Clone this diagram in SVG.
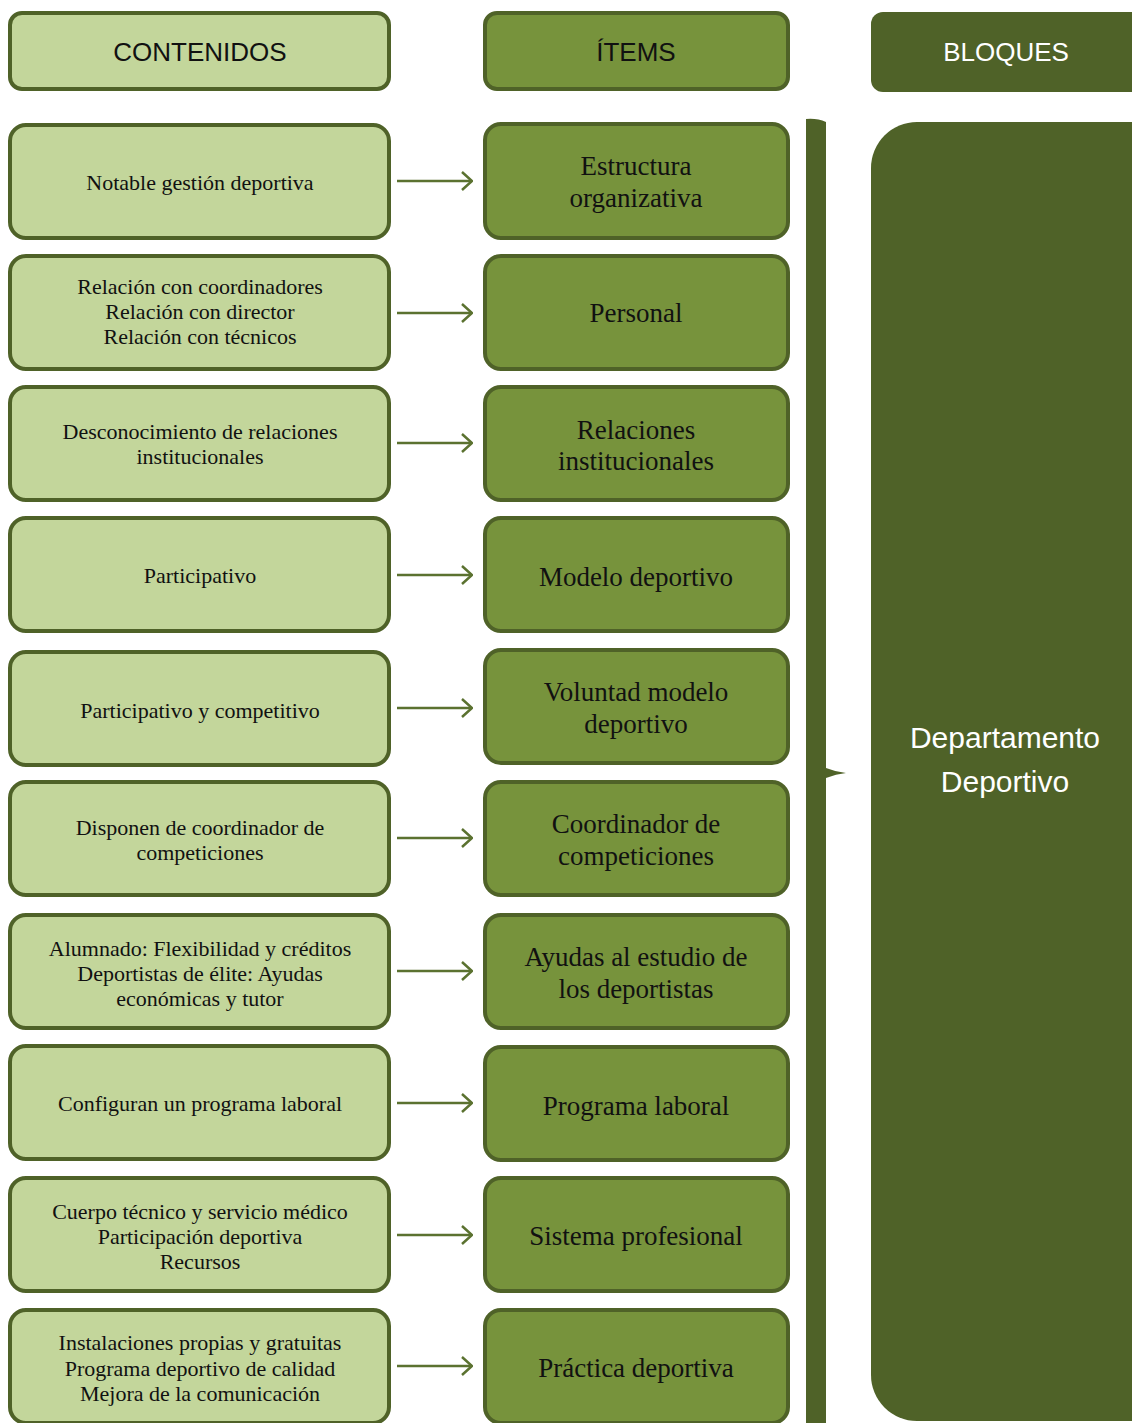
<svg xmlns="http://www.w3.org/2000/svg" width="1132" height="1423" viewBox="0 0 1132 1423">
  <style>
    .c { fill: #c3d69b; stroke: #4f6228; stroke-width: 4; }
    .i { fill: #77933c; stroke: #4f6228; stroke-width: 4; }
    .b { fill: #4f6228; }
    .hd { font-family: "Liberation Sans", Arial, sans-serif; font-size: 26px; text-anchor: middle; dominant-baseline: central; }
    .ct { font-family: "Liberation Serif", "Times New Roman", serif; font-size: 22px; fill: #111; text-anchor: middle; dominant-baseline: central; }
    .it { font-family: "Liberation Serif", "Times New Roman", serif; font-size: 27px; fill: #111; text-anchor: middle; dominant-baseline: central; }
    .bl { font-family: "Liberation Sans", Arial, sans-serif; font-size: 30px; fill: #ffffff; text-anchor: middle; dominant-baseline: central; }
    .ar { fill: none; stroke: #5b7230; stroke-width: 2.5; }
  </style>
  <defs>
    <marker id="head" viewBox="0 0 12 20" refX="11" refY="10" markerWidth="12" markerHeight="20" markerUnits="userSpaceOnUse" orient="auto">
      <path d="M1,1 L11,10 L1,19" fill="none" stroke="#5b7230" stroke-width="2.5"/>
    </marker>
  </defs>

  <!-- column headers -->
  <g id="h-contenidos">
    <rect class="c" x="10" y="13" width="379" height="76" rx="12"/>
    <text class="hd" x="200" y="52" fill="#111">CONTENIDOS</text>
  </g>
  <g id="h-items">
    <rect class="i" x="485" y="13" width="303" height="76" rx="12"/>
    <text class="hd" x="636" y="52" fill="#111">ÍTEMS</text>
  </g>
  <g id="h-bloques">
    <rect class="b" x="871" y="12" width="300" height="80" rx="12"/>
    <text class="hd" x="1006" y="52" fill="#ffffff">BLOQUES</text>
  </g>

  <!-- contents column -->
  <g id="c1"><rect class="c" x="10" y="125" width="379" height="113" rx="16"/>
    <text class="ct" x="200" y="182">Notable gestión deportiva</text></g>
  <g id="c2"><rect class="c" x="10" y="256" width="379" height="113" rx="16"/>
    <text class="ct" x="200" y="286">Relación con coordinadores</text>
    <text class="ct" x="200" y="311">Relación con director</text>
    <text class="ct" x="200" y="336">Relación con técnicos</text></g>
  <g id="c3"><rect class="c" x="10" y="387" width="379" height="113" rx="16"/>
    <text class="ct" x="200" y="431">Desconocimiento de relaciones</text>
    <text class="ct" x="200" y="456">institucionales</text></g>
  <g id="c4"><rect class="c" x="10" y="518" width="379" height="113" rx="16"/>
    <text class="ct" x="200" y="575">Participativo</text></g>
  <g id="c5"><rect class="c" x="10" y="652" width="379" height="113" rx="16"/>
    <text class="ct" x="200" y="710">Participativo y competitivo</text></g>
  <g id="c6"><rect class="c" x="10" y="782" width="379" height="113" rx="16"/>
    <text class="ct" x="200" y="827">Disponen de coordinador de</text>
    <text class="ct" x="200" y="852">competiciones</text></g>
  <g id="c7"><rect class="c" x="10" y="915" width="379" height="113" rx="16"/>
    <text class="ct" x="200" y="948">Alumnado: Flexibilidad y créditos</text>
    <text class="ct" x="200" y="973">Deportistas de élite: Ayudas</text>
    <text class="ct" x="200" y="998">económicas y tutor</text></g>
  <g id="c8"><rect class="c" x="10" y="1046" width="379" height="113" rx="16"/>
    <text class="ct" x="200" y="1103">Configuran un programa laboral</text></g>
  <g id="c9"><rect class="c" x="10" y="1178" width="379" height="113" rx="16"/>
    <text class="ct" x="200" y="1211">Cuerpo técnico y servicio médico</text>
    <text class="ct" x="200" y="1236">Participación deportiva</text>
    <text class="ct" x="200" y="1261">Recursos</text></g>
  <g id="c10"><rect class="c" x="10" y="1310" width="379" height="113" rx="16"/>
    <text class="ct" x="200" y="1342">Instalaciones propias y gratuitas</text>
    <text class="ct" x="200" y="1368">Programa deportivo de calidad</text>
    <text class="ct" x="200" y="1393">Mejora de la comunicación</text></g>

  <!-- items column -->
  <g id="i1"><rect class="i" x="485" y="124" width="303" height="114" rx="16"/>
    <text class="it" x="636" y="166">Estructura</text>
    <text class="it" x="636" y="198">organizativa</text></g>
  <g id="i2"><rect class="i" x="485" y="256" width="303" height="113" rx="16"/>
    <text class="it" x="636" y="313">Personal</text></g>
  <g id="i3"><rect class="i" x="485" y="387" width="303" height="113" rx="16"/>
    <text class="it" x="636" y="430">Relaciones</text>
    <text class="it" x="636" y="461">institucionales</text></g>
  <g id="i4"><rect class="i" x="485" y="518" width="303" height="113" rx="16"/>
    <text class="it" x="636" y="577">Modelo deportivo</text></g>
  <g id="i5"><rect class="i" x="485" y="650" width="303" height="113" rx="16"/>
    <text class="it" x="636" y="692">Voluntad modelo</text>
    <text class="it" x="636" y="724">deportivo</text></g>
  <g id="i6"><rect class="i" x="485" y="782" width="303" height="113" rx="16"/>
    <text class="it" x="636" y="824">Coordinador de</text>
    <text class="it" x="636" y="856">competiciones</text></g>
  <g id="i7"><rect class="i" x="485" y="915" width="303" height="113" rx="16"/>
    <text class="it" x="636" y="957">Ayudas al estudio de</text>
    <text class="it" x="636" y="989">los deportistas</text></g>
  <g id="i8"><rect class="i" x="485" y="1047" width="303" height="113" rx="16"/>
    <text class="it" x="636" y="1106">Programa laboral</text></g>
  <g id="i9"><rect class="i" x="485" y="1178" width="303" height="113" rx="16"/>
    <text class="it" x="636" y="1236">Sistema profesional</text></g>
  <g id="i10"><rect class="i" x="485" y="1310" width="303" height="113" rx="16"/>
    <text class="it" x="636" y="1368">Práctica deportiva</text></g>

  <!-- block -->
  <g id="brace">
    <path class="b" d="M806,119 Q817,118 826,122 L826,768 Q836,772 846,773 Q836,774 826,778 L826,1423 L806,1423 Z"/>
  </g>
  <g id="bloque">
    <rect class="b" x="871" y="122" width="320" height="1299" rx="46"/>
    <text class="bl" x="1005" y="737">Departamento</text>
    <text class="bl" x="1005" y="781">Deportivo</text>
  </g>

  <!-- connectors -->
  <g id="connectors" class="ar">
    <line x1="397" y1="181" x2="472" y2="181" marker-end="url(#head)"/>
    <line x1="397" y1="313" x2="472" y2="313" marker-end="url(#head)"/>
    <line x1="397" y1="443" x2="472" y2="443" marker-end="url(#head)"/>
    <line x1="397" y1="575" x2="472" y2="575" marker-end="url(#head)"/>
    <line x1="397" y1="708" x2="472" y2="708" marker-end="url(#head)"/>
    <line x1="397" y1="838" x2="472" y2="838" marker-end="url(#head)"/>
    <line x1="397" y1="971" x2="472" y2="971" marker-end="url(#head)"/>
    <line x1="397" y1="1103" x2="472" y2="1103" marker-end="url(#head)"/>
    <line x1="397" y1="1235" x2="472" y2="1235" marker-end="url(#head)"/>
    <line x1="397" y1="1366" x2="472" y2="1366" marker-end="url(#head)"/>
  </g>
</svg>
